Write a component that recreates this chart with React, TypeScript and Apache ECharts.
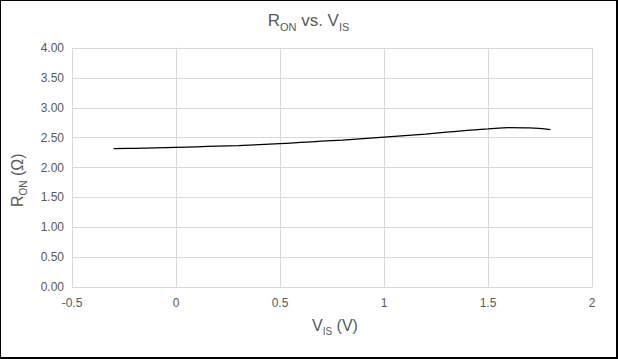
import React, { useEffect, useRef } from "react";
import * as echarts from "echarts";

const vis: number[] = [-0.3, -0.2, -0.1, 0, 0.1, 0.2, 0.3, 0.4, 0.5, 0.6, 0.7, 0.8, 0.9, 1.0, 1.1, 1.2, 1.3, 1.4, 1.5, 1.6, 1.7, 1.8];
const ron: number[] = [2.315, 2.322, 2.33, 2.338, 2.347, 2.357, 2.368, 2.383, 2.4, 2.42, 2.44, 2.46, 2.485, 2.51, 2.535, 2.56, 2.59, 2.62, 2.645, 2.668, 2.662, 2.635];

const FONT = "'Liberation Sans', Arial, sans-serif";
const GREY = "#595959";

export default function App() {
  const ref = useRef<HTMLDivElement>(null);
  useEffect(() => {
    document.body.style.margin = "0";
    if (!ref.current) return;
    const chart = echarts.init(ref.current, undefined, { renderer: "svg" });
    chart.setOption({
      animation: false,
      backgroundColor: "#ffffff",
      grid: { left: 71, right: 24, top: 47, bottom: 70 },
      xAxis: {
        type: "value",
        min: -0.5,
        max: 2,
        interval: 0.5,
        axisLine: { show: true, lineStyle: { color: "#d9d9d9", width: 1 } },
        axisTick: { show: false },
        splitLine: { show: true, lineStyle: { color: "#d9d9d9", width: 1 } },
        axisLabel: { color: GREY, fontFamily: FONT, fontSize: 12, margin: 10 },
      },
      yAxis: {
        type: "value",
        min: 0,
        max: 4,
        interval: 0.5,
        axisLine: { show: true, lineStyle: { color: "#d9d9d9", width: 1 } },
        axisTick: { show: false },
        splitLine: { show: true, lineStyle: { color: "#d9d9d9", width: 1 } },
        axisLabel: {
          color: GREY,
          fontFamily: FONT,
          fontSize: 12,
          margin: 8,
          formatter: (v: number) => v.toFixed(2),
        },
      },
      series: [
        {
          type: "line",
          data: vis.map((x, i) => [x, ron[i]]),
          smooth: 0.4,
          showSymbol: false,
          lineStyle: { color: "#000000", width: 1.25 },
        },
      ],
      graphic: [
        {
          type: "text",
          left: "center",
          top: 11,
          style: {
            text: "{b|R}{s|ON}{b| vs. V}{s|IS}",
            rich: {
              b: { fontFamily: FONT, fontSize: 17, fill: GREY, verticalAlign: "bottom" },
              s: { fontFamily: FONT, fontSize: 11, fill: GREY, verticalAlign: "bottom", padding: [0, 0, -3, 0] },
            },
          },
        },
        {
          type: "text",
          left: 311,
          top: 316,
          style: {
            text: "{b|V}{s|IS}{b| (V)}",
            rich: {
              b: { fontFamily: FONT, fontSize: 16, fill: GREY, verticalAlign: "bottom" },
              s: { fontFamily: FONT, fontSize: 10, fill: GREY, verticalAlign: "bottom", padding: [0, 0, -3, 0] },
            },
          },
        },
        {
          type: "text",
          x: 8,
          y: 206,
          rotation: Math.PI / 2,
          style: {
            text: "{b|R}{s|ON}{b| (Ω)}",
            rich: {
              b: { fontFamily: FONT, fontSize: 16, fill: GREY, verticalAlign: "bottom" },
              s: { fontFamily: FONT, fontSize: 10, fill: GREY, verticalAlign: "bottom", padding: [0, 0, -3, 0] },
            },
          },
        },
      ],
    });
    return () => chart.dispose();
  }, []);
  return (
    <div
      style={{
        width: 618,
        height: 359,
        boxSizing: "border-box",
        borderLeft: "1px solid #000",
        borderTop: "1px solid #000",
        borderRight: "2px solid #000",
        borderBottom: "2px solid #000",
        background: "#fff",
      }}
    >
      <div ref={ref} style={{ width: 615, height: 356 }} />
    </div>
  );
}
